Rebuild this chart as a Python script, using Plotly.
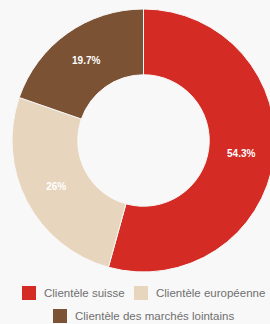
import plotly.graph_objects as go

labels = ["Clientèle suisse", "Clientèle européenne", "Clientèle des marchés lointains"]
values = [54.3, 26.0, 19.7]
text_labels = ["54.3%", "26%", "19.7%"]
colors = ["#d52b25", "#e8d5bd", "#7b5233"]

W, H = 290, 324
ML, MR, MT, MB = 12, 15, 9, 52
PW = W - ML - MR
PH = H - MT - MB

fig = go.Figure(go.Pie(
    labels=labels,
    values=values,
    text=text_labels,
    textinfo="text",
    textposition="inside",
    insidetextorientation="horizontal",
    hole=0.5,
    sort=False,
    direction="clockwise",
    rotation=0,
    marker=dict(colors=colors, line=dict(color="#f8f8f8", width=1)),
    textfont=dict(family="Liberation Sans, Arial, sans-serif", size=10, color="white", weight="bold"),
    hoverinfo="label+percent",
    showlegend=False,
))

def px_x(px):
    return (px - ML) / PW

def px_y(py):
    return (H - MB - py) / PH

# manual legend layout (pixel positions of each entry: square left, row centre)
legend_pos = [(22, 293), (134, 293), (53, 316)]
sq = 14
shapes = []
annotations = []
for lab, col, (sx, cy) in zip(labels, colors, legend_pos):
    shapes.append(dict(type="rect", xref="paper", yref="paper",
                       x0=px_x(sx), x1=px_x(sx + sq),
                       y0=px_y(cy - sq / 2), y1=px_y(cy + sq / 2),
                       fillcolor=col, line=dict(width=0)))
    annotations.append(dict(text=lab, xref="paper", yref="paper",
                            x=px_x(sx + sq + 6), y=px_y(cy),
                            xanchor="left", yanchor="middle", showarrow=False,
                            font=dict(family="Liberation Sans, Arial, sans-serif",
                                      size=11.5, color="#6f6f6f")))

fig.update_layout(
    width=W,
    height=H,
    margin=dict(l=ML, r=MR, t=MT, b=MB),
    paper_bgcolor="#f8f8f8",
    plot_bgcolor="#f8f8f8",
    shapes=shapes,
    annotations=annotations,
)

fig.write_html("out.html", config={"displayModeBar": False},
               post_script="document.body.style.overflow='hidden';document.body.style.margin='0';")
